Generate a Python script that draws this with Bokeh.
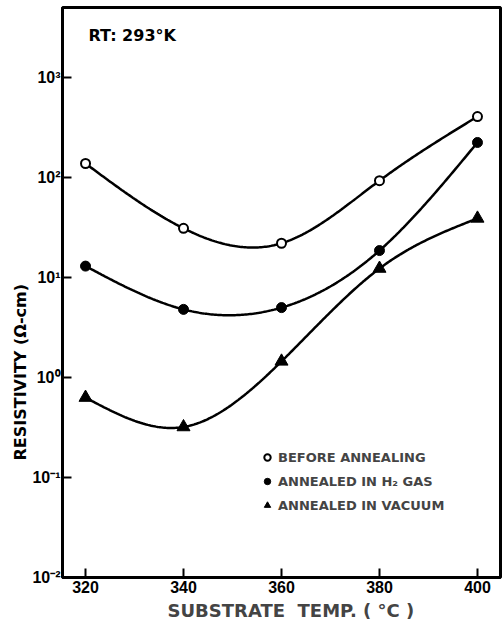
import numpy as np
from bokeh.plotting import figure
from bokeh.models import FixedTicker, CustomJSTickFormatter, Label, Legend, LegendItem, Title
from bokeh.embed import file_html
from bokeh.resources import INLINE

# ---- data ----
temps = [320, 340, 360, 380, 400]
before_annealing = [138, 31, 22, 93, 407]
annealed_h2 = [13, 4.8, 5.0, 18.6, 224]
annealed_vacuum = [0.63, 0.32, 1.45, 12.3, 39]
x_ticks = [320, 340, 360, 380, 400]
y_ticks = [0.01, 0.1, 1, 10, 100, 1000]
series_names = ["BEFORE ANNEALING", "ANNEALED IN H\u2082 GAS", "ANNEALED IN VACUUM"]
x_title = "\u00a0\u00a0\u00a0SUBSTRATE\u00a0\u00a0TEMP.\u00a0(\u00a0\u00b0C\u00a0)"
y_title = "RESISTIVITY (\u03a9-cm)"
note = "RT: 293\u00b0K"


def smooth_curve(xs, ys, n=240):
    """Natural cubic spline through the points, in log10 space."""
    x = np.asarray(xs, float)
    y = np.log10(np.asarray(ys, float))
    k = len(x)
    h = np.diff(x)
    A = np.zeros((k, k))
    b = np.zeros(k)
    A[0, 0] = 1
    A[-1, -1] = 1
    for i in range(1, k - 1):
        A[i, i - 1] = h[i - 1]
        A[i, i] = 2 * (h[i - 1] + h[i])
        A[i, i + 1] = h[i]
        b[i] = 6 * ((y[i + 1] - y[i]) / h[i] - (y[i] - y[i - 1]) / h[i - 1])
    M = np.linalg.solve(A, b)
    t = np.linspace(x[0], x[-1], n)
    out = np.empty_like(t)
    for j, tv in enumerate(t):
        i = min(np.searchsorted(x, tv, side="right") - 1, k - 2)
        hi = h[i]
        a = x[i + 1] - tv
        c = tv - x[i]
        out[j] = (M[i] * a ** 3 / (6 * hi) + M[i + 1] * c ** 3 / (6 * hi)
                  + (y[i] / hi - M[i] * hi / 6) * a
                  + (y[i + 1] / hi - M[i + 1] * hi / 6) * c)
    return t, 10 ** out


FONT = "DejaVu Sans"
TICKFONT = "Liberation Sans"

p = figure(width=504, height=623, y_axis_type="log",
           x_range=(315.3, 404.7), y_range=(0.01, 10 ** 3.7),
           output_backend="svg", toolbar_location=None,
           min_border_left=62, min_border_right=4, min_border_top=7, min_border_bottom=46)

p.grid.visible = False
p.outline_line_color = "black"
p.outline_line_width = 3
p.background_fill_color = "white"
p.border_fill_color = "white"

for ax in (p.xaxis[0], p.yaxis[0]):
    ax.axis_line_width = 2.5
    ax.axis_line_color = "black"
    ax.major_tick_in = 9
    ax.major_tick_out = 0
    ax.major_tick_line_width = 2
    ax.minor_tick_line_color = None
    ax.major_label_text_font = TICKFONT
    ax.major_label_text_font_style = "bold"
    ax.major_label_text_font_size = "16px"
    ax.major_label_text_color = "black"

p.xaxis.ticker = FixedTicker(ticks=x_ticks)
p.xaxis.major_label_standoff = 3
p.xaxis.axis_label = x_title
p.xaxis.axis_label_text_font = FONT
p.xaxis.axis_label_text_font_style = "bold"
p.xaxis.axis_label_text_font_size = "18px"
p.xaxis.axis_label_standoff = 4

p.yaxis.ticker = FixedTicker(ticks=y_ticks)
p.yaxis.major_label_standoff = 2
p.yaxis.formatter = CustomJSTickFormatter(code="""
    const e = Math.round(Math.log10(tick));
    const sup = {"0":"\u2070","1":"\u00b9","2":"\u00b2","3":"\u00b3","4":"\u2074","5":"\u2075",
                 "6":"\u2076","7":"\u2077","8":"\u2078","9":"\u2079","-":"\u207b"};
    return "10" + String(e).split("").map(c => sup[c]).join("");
""")

lw = 2.5
items = []
styles = [
    dict(marker="circle", size=9, fill_color="white", line_width=2),
    dict(marker="circle", size=10, fill_color="black", line_width=1),
    dict(marker="triangle", size=13, fill_color="black", line_width=1),
]
for name, vals, st in zip(series_names, [before_annealing, annealed_h2, annealed_vacuum], styles):
    cx, cy = smooth_curve(temps, vals)
    p.line(cx, cy, line_color="black", line_width=lw)
    r = p.scatter(temps, vals, marker=st["marker"], size=st["size"],
                  fill_color=st["fill_color"], line_color="black", line_width=st["line_width"])
    items.append(LegendItem(label=name, renderers=[r]))

legend = Legend(items=items, location=(197, 62), orientation="vertical",
                label_text_font=FONT, label_text_font_style="bold",
                label_text_font_size="13px", glyph_width=16, glyph_height=20,
                label_standoff=3, spacing=4, padding=0, margin=0,
                border_line_color=None, background_fill_alpha=0)
p.add_layout(legend, "center")

p.add_layout(Label(x=26, y=552, x_units="screen", y_units="screen", text=note,
                   text_font=FONT, text_font_style="bold", text_font_size="16px",
                   text_color="black", text_baseline="top"))

p.add_layout(Title(text=y_title, align="left", offset=117, standoff=0,
                   text_font=FONT, text_font_style="bold", text_font_size="16px",
                   text_color="black"), "left")

open("out.html", "w").write(file_html(p, INLINE))
